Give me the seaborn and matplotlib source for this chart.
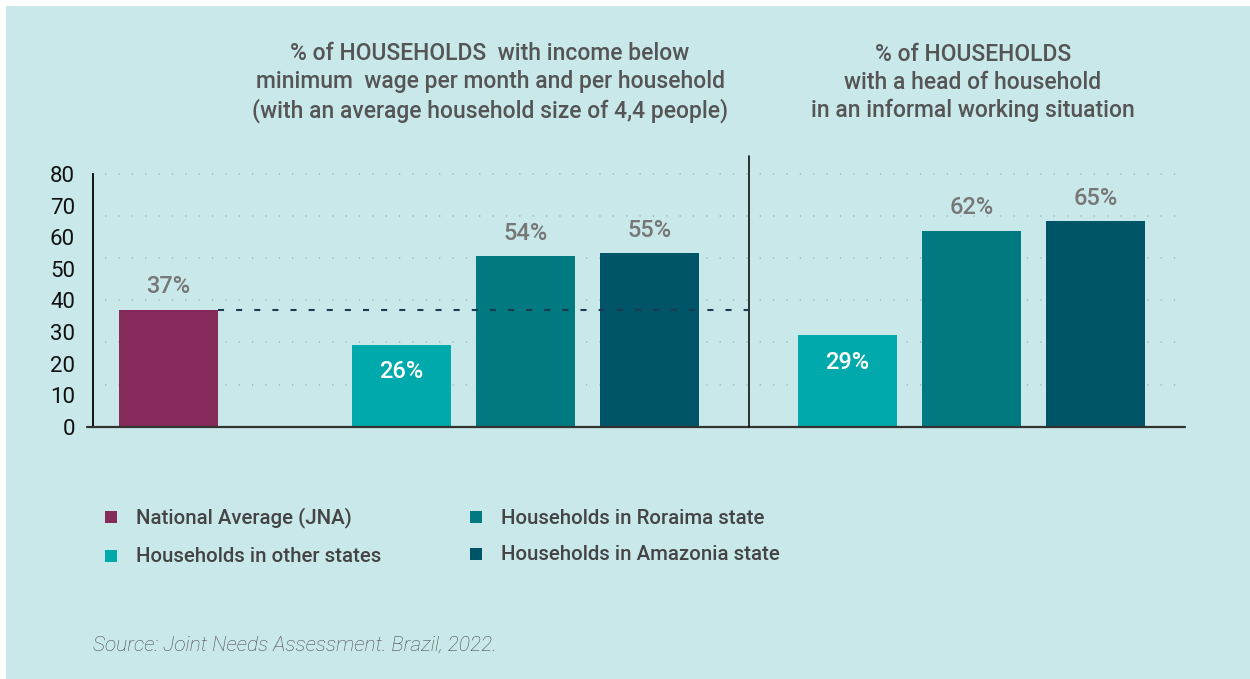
import numpy as np
import pandas as pd
import matplotlib
matplotlib.use("Agg")
import matplotlib.pyplot as plt
import seaborn as sns
from matplotlib.patches import Rectangle

# ---------------- data ----------------
series = ["National Average (JNA)", "Households in other states",
          "Households in Roraima state", "Households in Amazonia state"]
income_series = series
income_values = [37, 26, 54, 55]
informal_series = series[1:]
informal_values = [29, 62, 65]
national_average = 37
y_ticks = [0, 10, 20, 30, 40, 50, 60, 70, 80]
title_income = ("% of HOUSEHOLDS  with income below\n"
                "minimum  wage per month and per household\n"
                "(with an average household size of 4,4 people)")
title_informal = ("% of HOUSEHOLDS\nwith a head of household\n"
                  "in an informal working situation")
source_text = "Source: Joint Needs Assessment. Brazil, 2022."

# ---------------- style ----------------
colors = {
    series[0]: "#862A5C",
    series[1]: "#00A9AC",
    series[2]: "#007A80",
    series[3]: "#005468",
}
BG = "#C9E8EA"
TITLE_C = "#555555"

# layout positions (slot units)
pos_income = [0.0, 1.88, 2.88, 3.88]
pos_informal = [5.476, 6.476, 7.476]
divider_x = 4.681

df = pd.DataFrame({
    "pos": pos_income + pos_informal,
    "value": income_values + informal_values,
    "series": income_series + informal_series,
})

sns.set_theme(style="white")
plt.rcParams['font.family'] = ['Roboto', 'DejaVu Sans']

W, H = 1250, 679
fig = plt.figure(figsize=(W / 100, H / 100), dpi=100, facecolor="white")
fig.patches.append(Rectangle((6 / W, 0), 1 - 6 / W, 1 - 6 / H, transform=fig.transFigure,
                             facecolor=BG, edgecolor="none", zorder=-10))


def fx(px):
    return px / W


def fy(py):
    return 1 - py / H


y0px, y80px, ytop = 426.7, 174.0, 156.0
ppu = (y0px - y80px) / 80
ymax = (y0px - ytop) / ppu
slot = 124.0
c0 = 168.5
xl = (93 - c0) / slot
xr = (1185 - c0) / slot

ax = fig.add_axes([fx(93), fy(y0px), (1185 - 93) / W, (y0px - ytop) / H])
ax.set_facecolor("none")

sns.barplot(data=df, x="pos", y="value", hue="series", palette=colors,
            native_scale=True, dodge=False, width=0.8, linewidth=0,
            saturation=1, legend=False, ax=ax, zorder=3)

ax.set_xlim(xl, xr)
ax.set_ylim(0, ymax)

# dotted decorative grid
for k in range(1, 7):
    ax.axhline(80 * k / 6, xmin=(105 - 93) / 1092, xmax=(1180 - 93) / 1092,
               color="#a9bcbd", lw=1.3, ls=(0, (0.7, 6.7)), zorder=1)

# spines
for s in ["top", "right", "bottom"]:
    ax.spines[s].set_visible(False)
ax.spines["left"].set_bounds(0, 80)
ax.spines["left"].set_color("#111111")
ax.spines["left"].set_linewidth(1.4)
ax.plot([(87 - c0) / slot, xr], [0, 0], color="#333333", lw=1.6,
        clip_on=False, zorder=4)
ax.plot([divider_x, divider_x], [0, ymax], color="#111111", lw=1.2,
        clip_on=False, zorder=4)

# national average reference line
ax.plot([pos_income[0] + 0.4, divider_x], [national_average] * 2,
        color="#1d3a4f", lw=1.5, ls=(0, (2.9, 5.8)), zorder=4)

# value labels
for x, v in zip(df["pos"], df["value"]):
    inside = v < 30
    ax.annotate(f"{v}%", (x, v), xytext=(0, -19.5 if inside else 16.5),
                textcoords="offset points", ha="center", va="center",
                color="white" if inside else "#777777", fontsize=17,
                fontweight="medium", zorder=5)

ax.set_yticks(y_ticks)
ax.set_xticks([])
ax.set_xlabel("")
ax.set_ylabel("")
ax.tick_params(axis="y", length=0, pad=13, labelcolor="#111111")
for lab in ax.get_yticklabels():
    lab.set_fontfamily(['Roboto', 'DejaVu Sans'])
    lab.set_fontsize(16)

# titles
fig.text(fx(490), fy(82.5), title_income, ha="center", va="center", fontsize=16.5,
         color=TITLE_C, fontweight="medium", linespacing=1.25)
fig.text(fx(973), fy(82.5), title_informal, ha="center", va="center", fontsize=16.5,
         color=TITLE_C, fontweight="medium", linespacing=1.25)

# legend
leg_items = [(series[0], 105, 517), (series[1], 105, 556),
             (series[2], 470, 517), (series[3], 470, 554)]
for name, sx, sy in leg_items:
    fig.patches.append(Rectangle((fx(sx), fy(sy + 6)), 12 / W, 12 / H,
                                 transform=fig.transFigure, facecolor=colors[name],
                                 edgecolor="none"))
    fig.text(fx(sx + 31), fy(sy + 1), name, ha="left", va="center", fontsize=14.7,
             color="#444444", fontweight="medium")

fig.text(fx(93), fy(645), source_text, ha="left", va="center", fontsize=15,
         color="#4a4a4a", style="italic", fontweight="light")

fig.savefig("out.png", dpi=100, facecolor=fig.get_facecolor())
